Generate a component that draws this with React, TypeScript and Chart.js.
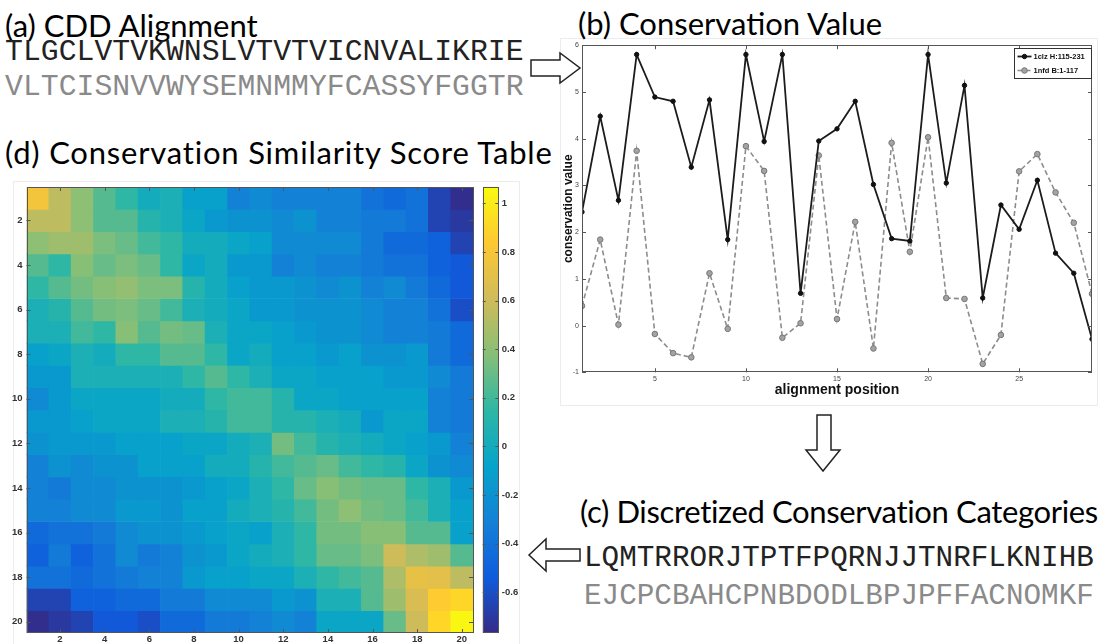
import React, { useEffect, useRef } from 'react';
import { Chart, registerables } from 'chart.js';
Chart.register(...registerables);

// ---------- (b) conservation value line chart ----------
const alignmentPositions = [1, 2, 3, 4, 5, 6, 7, 8, 9, 10, 11, 12, 13, 14, 15, 16, 17, 18, 19, 20, 21, 22, 23, 24, 25, 26, 27, 28, 29];
const clzValues = [2.43, 4.48, 2.68, 5.8, 4.89, 4.8, 3.39, 4.83, 1.84, 5.8, 3.94, 5.8, 0.69, 3.95, 4.21, 4.8, 3.02, 1.86, 1.81, 5.8, 3.05, 5.14, 0.59, 2.58, 2.06, 3.11, 1.55, 1.12, -0.29];
const nfdValues = [0.42, 1.84, 0.02, 3.74, -0.18, -0.59, -0.68, 1.12, -0.07, 3.84, 3.31, -0.26, 0.05, 3.64, 0.14, 2.22, -0.49, 3.91, 1.58, 4.03, 0.59, 0.57, -0.82, -0.2, 3.3, 3.67, 2.85, 2.2, 0.68];
const seriesLabels = ['1clz H:115-231', '1nfd B:1-117'];
const lineXTicks = [5, 10, 15, 20, 25];
const lineYTicks = [-1, 0, 1, 2, 3, 4, 5, 6];

// ---------- (d) similarity score heat map ----------
const heatColumns = ['1', '2', '3', '4', '5', '6', '7', '8', '9', '10', '11', '12', '13', '14', '15', '16', '17', '18', '19', '20'];
const heatRowNumbers = [1, 2, 3, 4, 5, 6, 7, 8, 9, 10, 11, 12, 13, 14, 15, 16, 17, 18, 19, 20];
const heatRow01 = [0.78, 0.55, 0.4, 0.25, 0.15, 0.0, 0.05, -0.1, -0.1, -0.3, -0.25, -0.3, -0.3, -0.3, -0.3, -0.4, -0.45, -0.4, -0.65, -0.75];
const heatRow02 = [0.55, 0.55, 0.4, 0.25, 0.25, 0.1, 0.05, -0.05, -0.15, -0.2, -0.2, -0.25, -0.2, -0.3, -0.3, -0.35, -0.35, -0.4, -0.65, -0.7];
const heatRow03 = [0.4, 0.45, 0.45, 0.35, 0.3, 0.2, 0.15, 0.0, 0.0, -0.05, -0.1, -0.25, -0.25, -0.25, -0.25, -0.35, -0.45, -0.45, -0.5, -0.65];
const heatRow04 = [0.25, 0.15, 0.38, 0.3, 0.35, 0.3, 0.15, -0.05, 0.0, -0.15, -0.15, -0.3, -0.25, -0.3, -0.3, -0.35, -0.4, -0.4, -0.5, -0.55];
const heatRow05 = [0.15, 0.25, 0.33, 0.38, 0.42, 0.35, 0.35, 0.1, 0.0, -0.1, -0.15, -0.15, -0.2, -0.25, -0.2, -0.3, -0.25, -0.35, -0.45, -0.55];
const heatRow06 = [0.05, 0.1, 0.25, 0.33, 0.35, 0.3, 0.2, 0.05, 0.0, -0.05, -0.15, -0.15, -0.2, -0.2, -0.2, -0.25, -0.3, -0.3, -0.4, -0.6];
const heatRow07 = [0.05, 0.05, 0.2, 0.15, 0.38, 0.25, 0.33, 0.3, 0.05, -0.05, -0.05, -0.1, -0.15, -0.2, -0.2, -0.25, -0.3, -0.3, -0.35, -0.45];
const heatRow08 = [-0.1, -0.05, 0.05, 0.0, 0.15, 0.15, 0.25, 0.25, 0.15, -0.05, 0.0, -0.1, -0.1, -0.15, -0.1, -0.2, -0.2, -0.15, -0.35, -0.45];
const heatRow09 = [-0.15, -0.15, 0.05, 0.05, 0.05, 0.05, 0.05, 0.15, 0.25, 0.15, 0.05, -0.05, -0.05, -0.1, -0.1, -0.1, -0.15, -0.15, -0.25, -0.35];
const heatRow10 = [-0.25, -0.15, -0.05, -0.05, -0.05, -0.05, 0.0, 0.0, 0.15, 0.2, 0.2, 0.1, -0.05, -0.05, -0.1, -0.1, -0.1, -0.1, -0.3, -0.35];
const heatRow11 = [-0.15, -0.15, -0.1, -0.05, -0.05, -0.05, 0.05, 0.05, 0.1, 0.2, 0.2, 0.1, 0.1, 0.05, 0.0, -0.15, -0.05, -0.05, -0.3, -0.35];
const heatRow12 = [-0.2, -0.15, -0.15, -0.15, -0.1, -0.1, -0.1, -0.05, -0.05, 0.0, 0.05, 0.33, 0.2, 0.1, 0.05, 0.0, -0.05, -0.1, -0.15, -0.3];
const heatRow13 = [-0.3, -0.2, -0.25, -0.2, -0.2, -0.1, -0.1, -0.1, 0.0, 0.0, 0.1, 0.2, 0.25, 0.3, 0.2, 0.15, 0.1, -0.05, -0.2, -0.25];
const heatRow14 = [-0.3, -0.35, -0.25, -0.25, -0.2, -0.2, -0.2, -0.15, -0.1, -0.05, 0.05, 0.15, 0.3, 0.38, 0.33, 0.3, 0.3, 0.15, 0.05, -0.15];
const heatRow15 = [-0.3, -0.3, -0.25, -0.25, -0.15, -0.15, -0.2, -0.1, -0.1, 0.0, 0.05, 0.1, 0.2, 0.33, 0.4, 0.33, 0.3, 0.2, 0.05, -0.1];
const heatRow16 = [-0.45, -0.4, -0.4, -0.35, -0.25, -0.2, -0.2, -0.15, -0.1, -0.05, -0.1, 0.05, 0.15, 0.33, 0.33, 0.38, 0.38, 0.25, 0.25, -0.1];
const heatRow17 = [-0.5, -0.35, -0.5, -0.4, -0.25, -0.35, -0.3, -0.2, -0.15, -0.05, 0.0, 0.05, 0.15, 0.3, 0.3, 0.35, 0.6, 0.5, 0.45, 0.25];
const heatRow18 = [-0.4, -0.4, -0.45, -0.4, -0.35, -0.3, -0.3, -0.15, -0.1, -0.1, -0.05, -0.05, 0.05, 0.15, 0.2, 0.25, 0.5, 0.72, 0.7, 0.55];
const heatRow19 = [-0.65, -0.65, -0.5, -0.5, -0.45, -0.45, -0.35, -0.35, -0.25, -0.25, -0.25, -0.15, -0.2, 0.05, 0.05, 0.25, 0.45, 0.65, 0.85, 0.9];
const heatRow20 = [-0.75, -0.7, -0.65, -0.55, -0.55, -0.6, -0.45, -0.45, -0.35, -0.35, -0.3, -0.25, -0.3, -0.05, -0.05, -0.05, 0.3, 0.6, 0.9, 1.05];
const heatMatrix = [heatRow01, heatRow02, heatRow03, heatRow04, heatRow05, heatRow06, heatRow07, heatRow08, heatRow09, heatRow10, heatRow11, heatRow12, heatRow13, heatRow14, heatRow15, heatRow16, heatRow17, heatRow18, heatRow19, heatRow20];
const heatTicks = [2, 4, 6, 8, 10, 12, 14, 16, 18, 20];
const colorbarTicks = [-0.6, -0.4, -0.2, 0, 0.2, 0.4, 0.6, 0.8, 1];
const colorMin = -0.767;
const colorMax = 1.068;

// ---------- sequences ----------
const alignmentSeq1 = 'TLGCLVTVKWNSLVTVTVICNVALIKRIE';
const alignmentSeq2 = 'VLTCISNVVWYSEMNMMYFCASSYFGGTR';
const categorySeq1 = 'LQMTRRORJTPTFPQRNJJTNRFLKNIHB';
const categorySeq2 = 'EJCPCBAHCPNBDODLBPJPFFACNOMKF';

// ---------- colour map (parula-like) ----------
const PARULA = ['#352a87', '#0f5cdd', '#1481d6', '#06a4ca', '#2eb7a4', '#87bf77', '#d1bb59', '#fec832', '#f9fb0e'];
function hexToRgb(h: string) {
  return [parseInt(h.slice(1, 3), 16), parseInt(h.slice(3, 5), 16), parseInt(h.slice(5, 7), 16)];
}
function parula(v: number) {
  let t = (v - colorMin) / (colorMax - colorMin);
  t = Math.max(0, Math.min(1, t));
  const p = t * (PARULA.length - 1);
  const i = Math.min(PARULA.length - 2, Math.floor(p));
  const f = p - i;
  const a = hexToRgb(PARULA[i]);
  const b = hexToRgb(PARULA[i + 1]);
  const c = a.map((x, k) => Math.round(x + (b[k] - x) * f));
  return `rgb(${c[0]},${c[1]},${c[2]})`;
}

// ---------- plugins ----------
const matFrame = {
  id: 'matFrame',
  afterDatasetsDraw(chart: any, _args: any, opts: any) {
    if (!opts || !opts.enabled) return;
    const { ctx, chartArea: a } = chart;
    ctx.save();
    ctx.strokeStyle = opts.color;
    ctx.lineWidth = 1;
    ctx.strokeRect(Math.round(a.left) + 0.5, Math.round(a.top) + 0.5, Math.round(a.right - a.left) - 1, Math.round(a.bottom - a.top) - 1);
    const L = opts.tickLen;
    ctx.beginPath();
    const xs = opts.xScale ? chart.scales[opts.xScale] : null;
    const ys = opts.yScale ? chart.scales[opts.yScale] : null;
    if (xs) {
      (opts.xTicks || []).forEach((v: number) => {
        const px = Math.round(xs.getPixelForValue(v)) + 0.5;
        ctx.moveTo(px, a.bottom); ctx.lineTo(px, a.bottom - L);
        ctx.moveTo(px, a.top); ctx.lineTo(px, a.top + L);
      });
    }
    if (ys) {
      (opts.yTicks || []).forEach((v: number) => {
        const py = Math.round(ys.getPixelForValue(v)) + 0.5;
        ctx.moveTo(a.left, py); ctx.lineTo(a.left + L, py);
        ctx.moveTo(a.right, py); ctx.lineTo(a.right - L, py);
      });
    }
    ctx.stroke();
    ctx.restore();
  },
};

const boxLegend = {
  id: 'boxLegend',
  afterDraw(chart: any, _args: any, opts: any) {
    if (!opts || !opts.enabled) return;
    const { ctx, chartArea: a } = chart;
    const x0 = Math.round(a.right - opts.width) + 0.5;
    const y0 = Math.round(a.top + opts.top) + 0.5;
    ctx.save();
    ctx.fillStyle = '#fff';
    ctx.fillRect(x0, y0, opts.width, opts.height);
    ctx.strokeStyle = '#333';
    ctx.lineWidth = 1;
    ctx.strokeRect(x0, y0, opts.width - 1, opts.height);
    chart.data.datasets.forEach((ds: any, i: number) => {
      const cy = y0 + opts.rowStart + i * opts.rowGap;
      const lx = x0 + 3;
      ctx.strokeStyle = ds.borderColor;
      ctx.lineWidth = ds.borderWidth;
      ctx.setLineDash(ds.borderDash || []);
      ctx.beginPath();
      ctx.moveTo(lx, cy);
      ctx.lineTo(lx + opts.lineLen, cy);
      ctx.stroke();
      ctx.setLineDash([]);
      ctx.beginPath();
      ctx.arc(lx + opts.lineLen / 2, cy, ds.pointRadius, 0, Math.PI * 2);
      ctx.fillStyle = ds.pointBackgroundColor;
      ctx.fill();
      ctx.lineWidth = ds.pointBorderWidth;
      ctx.strokeStyle = ds.pointBorderColor;
      ctx.stroke();
      ctx.fillStyle = '#111';
      ctx.font = opts.font;
      ctx.textBaseline = 'middle';
      ctx.fillText(ds.label, lx + opts.lineLen + 2, cy + 0.5);
    });
    ctx.restore();
  },
};

function makeLineChart(canvas: HTMLCanvasElement) {
  return new Chart(canvas, {
    type: 'line',
    data: {
      datasets: [
        {
          label: seriesLabels[0],
          data: alignmentPositions.map((x, i) => ({ x, y: clzValues[i] })),
          borderColor: '#1c1c1c',
          borderWidth: 1.8,
          pointRadius: 2.2,
          pointBackgroundColor: '#111',
          pointBorderColor: '#111',
          pointBorderWidth: 1,
          tension: 0,
        },
        {
          label: seriesLabels[1],
          data: alignmentPositions.map((x, i) => ({ x, y: nfdValues[i] })),
          borderColor: '#8c8c8c',
          borderWidth: 1.6,
          borderDash: [5, 3],
          pointRadius: 2.8,
          pointBackgroundColor: '#a3a3a3',
          pointBorderColor: '#777',
          pointBorderWidth: 1,
          tension: 0,
        },
      ],
    } as any,
    options: {
      animation: false,
      responsive: false,
      layout: { padding: { top: 6.7, right: 8, left: 0, bottom: 0 } },
      plugins: {
        legend: { display: false },
        tooltip: { enabled: false },
        matFrame: { enabled: true, color: '#555', tickLen: 4, xScale: 'x', yScale: 'y', xTicks: lineXTicks, yTicks: lineYTicks },
        boxLegend: { enabled: true, width: 78, height: 30, top: 2.5, rowStart: 8, rowGap: 14, lineLen: 14, font: 'bold 7.5px "Liberation Sans", Arial, sans-serif' },
      } as any,
      scales: {
        x: {
          type: 'linear',
          min: 1,
          max: 29,
          afterBuildTicks: (s: any) => { s.ticks = lineXTicks.map((v) => ({ value: v })); },
          afterFit: (s: any) => { s.height = 30.7; },
          grid: { display: false, drawTicks: false },
          border: { display: false },
          ticks: { padding: 3, font: { size: 7, family: '"Liberation Sans", Arial, sans-serif' }, color: '#444', maxRotation: 0 },
          title: { display: true, text: 'alignment position', color: '#111', font: { size: 14, weight: 'bold', family: '"Liberation Sans", Arial, sans-serif' }, padding: { top: 0, bottom: 4 } },
        },
        y: {
          type: 'linear',
          min: -1,
          max: 6,
          afterBuildTicks: (s: any) => { s.ticks = lineYTicks.map((v) => ({ value: v })); },
          afterFit: (s: any) => { s.width = 27; },
          grid: { display: false, drawTicks: false },
          border: { display: false },
          ticks: { padding: 3, font: { size: 7, family: '"Liberation Sans", Arial, sans-serif' }, color: '#444' },
          title: { display: true, text: 'conservation value', color: '#111', font: { size: 12, weight: 'bold', family: '"Liberation Sans", Arial, sans-serif' }, padding: { top: 6, bottom: 0 } },
        },
      },
    } as any,
    plugins: [matFrame, boxLegend],
  });
}

function makeHeatChart(canvas: HTMLCanvasElement) {
  return new Chart(canvas, {
    type: 'bar',
    data: {
      labels: heatColumns,
      datasets: heatMatrix.map((row, r) => ({
        label: `row ${heatRowNumbers[r]}`,
        data: row.map(() => [heatRowNumbers[r] - 0.5, heatRowNumbers[r] + 0.5]),
        backgroundColor: row.map((v) => parula(v)),
        borderWidth: 0,
        grouped: false,
        barPercentage: 1,
        categoryPercentage: 1,
      })),
    } as any,
    options: {
      animation: false,
      responsive: false,
      layout: { padding: { top: 17, right: 7, left: 0, bottom: 0 } },
      plugins: {
        legend: { display: false },
        tooltip: { enabled: false },
        matFrame: {
          enabled: true, color: '#555', tickLen: 4, xScale: 'x', yScale: 'y',
          xTicks: heatTicks.map((t) => heatColumns.indexOf(String(t))),
          yTicks: heatTicks,
        },
      } as any,
      scales: {
        x: {
          type: 'category',
          offset: true,
          afterFit: (s: any) => { s.height = 11; },
          grid: { display: false, drawTicks: false },
          border: { display: false },
          ticks: {
            autoSkip: false, maxRotation: 0, padding: 1, color: '#333',
            font: { size: 9.5, weight: 'bold', family: '"Liberation Sans", Arial, sans-serif' },
            callback: (_v: any, idx: number) => (heatTicks.includes(Number(heatColumns[idx])) ? heatColumns[idx] : ''),
          },
        },
        y: {
          type: 'linear',
          min: 0.5,
          max: 20.5,
          reverse: true,
          afterBuildTicks: (s: any) => { s.ticks = heatTicks.map((v) => ({ value: v })); },
          afterFit: (s: any) => { s.width = 26.5; },
          grid: { display: false, drawTicks: false },
          border: { display: false },
          ticks: { padding: 4, color: '#333', font: { size: 9.5, weight: 'bold', family: '"Liberation Sans", Arial, sans-serif' } },
        },
      },
    } as any,
    plugins: [matFrame],
  });
}

function makeColorbar(canvas: HTMLCanvasElement) {
  return new Chart(canvas, {
    type: 'bar',
    data: {
      labels: ['colorbar'],
      datasets: [
        {
          label: 'score',
          data: [[colorMin, colorMax]],
          borderWidth: 0,
          barPercentage: 1,
          categoryPercentage: 1,
          backgroundColor: (ctx: any) => {
            const chart = ctx.chart;
            const area = chart.chartArea;
            if (!area) return PARULA[4];
            const ys = chart.scales.y;
            const g = chart.ctx.createLinearGradient(0, ys.getPixelForValue(colorMin), 0, ys.getPixelForValue(colorMax));
            PARULA.forEach((c, i) => g.addColorStop(i / (PARULA.length - 1), c));
            return g;
          },
        },
      ],
    } as any,
    options: {
      animation: false,
      responsive: false,
      layout: { padding: { top: 16.7, right: 0, left: 4.7, bottom: 11 } },
      plugins: {
        legend: { display: false },
        tooltip: { enabled: false },
        matFrame: { enabled: true, color: '#555', tickLen: 3, yScale: 'y', yTicks: colorbarTicks },
      } as any,
      scales: {
        x: { display: false, offset: true },
        y: {
          position: 'right',
          type: 'linear',
          min: colorMin,
          max: colorMax,
          afterBuildTicks: (s: any) => { s.ticks = colorbarTicks.map((v) => ({ value: v })); },
          afterFit: (s: any) => { s.width = 39.7; },
          grid: { display: false, drawTicks: false },
          border: { display: false },
          ticks: {
            padding: 3.5, color: '#333',
            font: { size: 9.5, weight: 'bold', family: '"Liberation Sans", Arial, sans-serif' },
            callback: (v: any) => String(Math.round(Number(v) * 10) / 10),
          },
        },
      },
    } as any,
    plugins: [matFrame],
  });
}

const titleFont = 'Lato, "Open Sans", sans-serif';
const monoFont = '"Liberation Mono", "DejaVu Sans Mono", monospace';

export default function App() {
  const lineRef = useRef<HTMLCanvasElement>(null);
  const heatRef = useRef<HTMLCanvasElement>(null);
  const cbRef = useRef<HTMLCanvasElement>(null);

  useEffect(() => {
    const charts: Chart[] = [];
    if (lineRef.current) charts.push(makeLineChart(lineRef.current));
    if (heatRef.current) charts.push(makeHeatChart(heatRef.current));
    if (cbRef.current) charts.push(makeColorbar(cbRef.current));
    return () => charts.forEach((c) => c.destroy());
  }, []);

  const txt = (left: number, top: number, size: number, family: string, color = '#000', spacing = 0): React.CSSProperties => ({
    position: 'absolute', left, top, fontSize: size, fontFamily: family, color, lineHeight: 1, whiteSpace: 'pre', margin: 0, letterSpacing: spacing,
  });

  return (
    <div style={{ position: 'absolute', left: 0, top: 0, width: 1108, height: 644, background: '#fff', overflow: 'hidden' }}>
      {/* faint figure frames */}
      <div style={{ position: 'absolute', left: 13, top: 181, width: 505, height: 470, border: '1px solid #ececec' }} />
      <div style={{ position: 'absolute', left: 560, top: 38, width: 536, height: 366, border: '1px solid #ececec' }} />

      <div style={txt(5, 10, 31, titleFont)}>(a) CDD Alignment</div>
      <div style={txt(5, 38, 29.8, monoFont, '#222')}>{alignmentSeq1}</div>
      <div style={txt(5, 73, 29.8, monoFont, '#8a8a8a')}>{alignmentSeq2}</div>
      <div style={txt(578, 8, 31, titleFont)}>(b) Conservation Value</div>
      <div style={txt(5, 137, 31, titleFont, '#000', 0.8)}>(d) Conservation Similarity Score Table</div>
      <div style={txt(580, 496, 31, titleFont, '#000', -0.35)}>(c) Discretized Conservation Categories</div>
      <div style={txt(584, 544, 29.3, monoFont, '#222')}>{categorySeq1}</div>
      <div style={txt(584, 582, 29.3, monoFont, '#8a8a8a')}>{categorySeq2}</div>

      <canvas ref={lineRef} width={545} height={365} style={{ position: 'absolute', left: 555, top: 38, width: 545, height: 365 }} />
      <canvas ref={heatRef} width={480} height={474} style={{ position: 'absolute', left: 0, top: 170, width: 480, height: 474 }} />
      <canvas ref={cbRef} width={60} height={474} style={{ position: 'absolute', left: 478, top: 170, width: 60, height: 474 }} />

      <svg width={1108} height={644} style={{ position: 'absolute', left: 0, top: 0, pointerEvents: 'none' }}>
        <polygon points="531,60 560,60 560,53 580,68 560,83 560,76 531,76" fill="#fff" stroke="#222" strokeWidth={1.5} />
        <polygon points="817,415 831,415 831,450 840,450 823,471 806,450 817,450" fill="#fff" stroke="#222" strokeWidth={1.5} />
        <polygon points="529,555 546,539 546,549 580,549 580,561 546,561 546,571" fill="#fff" stroke="#222" strokeWidth={1.5} />
      </svg>
    </div>
  );
}
